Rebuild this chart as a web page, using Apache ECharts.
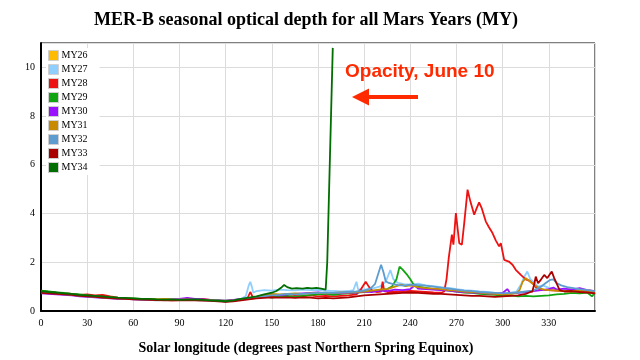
<!DOCTYPE html>
<html><head><meta charset="utf-8">
<script src="https://cdn.jsdelivr.net/npm/echarts@6/dist/echarts.min.js"></script>
<style>html,body{margin:0;padding:0;background:#fff}#c{width:640px;height:360px}</style>
</head><body><div id="c"></div>
<script>
const titleText = 'MER-B seasonal optical depth for all Mars Years (MY)';
const xAxisName = 'Solar longitude (degrees past Northern Spring Equinox)';
const annotationText = 'Opacity, June 10';
const yearNames = ['MY26','MY27','MY28','MY29','MY30','MY31','MY32','MY33','MY34'];
const yearColors = ['#ffbb00','#8fcfff','#ee1111','#11a611','#9a11ff','#c88a00','#5d9ccf','#aa0000','#006e00'];

const my26 = [[339,0.92],[341,0.86],[344,0.9],[347,0.84],[350,0.88],[353,0.82],[356,0.86],[360,0.8]];
const my27 = [[0,0.80],[5,0.76],[10,0.74],[15,0.70],[20,0.68],[25,0.64],[30,0.62],[35,0.60],[40,0.57],[45,0.55],[50,0.54],[55,0.52],[60,0.50],[65,0.48],[70,0.47],[75,0.46],[80,0.45],[85,0.47],[90,0.46],[95,0.47],[100,0.46],[105,0.45],[110,0.44],[115,0.42],[120,0.40],[125,0.44],[130,0.50],[133,0.6],[135,1.05],[136,1.2],[137,1.0],[138,0.75],[140,0.82],[145,0.86],[150,0.84],[155,0.88],[160,0.86],[165,0.85],[170,0.88],[175,0.86],[180,0.87],[185,0.85],[190,0.82],[195,0.8],[200,0.82],[203,0.86],[205,1.2],[206,0.9],[210,0.88],[215,0.92],[220,1.0],[224,1.2],[227,1.68],[229,1.3],[232,1.15],[236,1.1],[240,1.08],[245,1.12],[250,1.05],[255,1.02],[260,0.98],[265,0.95],[270,0.9],[275,0.86],[280,0.84],[285,0.8],[290,0.78],[295,0.74],[300,0.72],[305,0.74],[309,0.8],[312,1.1],[314,1.4],[316,1.62],[318,1.3],[320,1.2],[323,1.0],[326,1.05],[330,0.95],[335,0.9],[340,0.88],[345,0.86],[350,0.84],[355,0.8],[360,0.78]];
const my28 = [[0,0.82],[5,0.78],[10,0.74],[15,0.72],[20,0.7],[25,0.66],[30,0.68],[35,0.64],[40,0.66],[45,0.6],[50,0.55],[55,0.52],[60,0.5],[65,0.49],[70,0.5],[75,0.47],[80,0.46],[85,0.44],[90,0.45],[95,0.5],[100,0.47],[105,0.5],[110,0.46],[115,0.43],[120,0.4],[125,0.42],[130,0.48],[134,0.5],[136,0.78],[138,0.52],[140,0.55],[145,0.6],[150,0.6],[155,0.62],[160,0.58],[165,0.62],[170,0.6],[175,0.64],[180,0.6],[185,0.62],[190,0.6],[195,0.62],[200,0.64],[205,0.68],[208,0.9],[211,1.2],[213,1.0],[215,0.85],[218,0.78],[221,0.8],[222,1.2],[223,0.82],[225,0.78],[230,0.78],[235,0.8],[240,0.82],[245,0.8],[250,0.78],[255,0.76],[260,0.75],[262,0.8],[263.5,1.3],[265,2.2],[267,3.13],[268,2.72],[269.6,4.02],[271.8,2.78],[273.5,2.72],[275,3.6],[277.2,4.98],[279,4.5],[281.5,3.95],[283,4.2],[284.7,4.46],[286.5,4.2],[289,3.68],[291,3.45],[293.4,3.2],[295.5,2.9],[297.7,2.65],[298.8,2.78],[301,2.1],[304,2.03],[306.4,1.9],[308.5,1.69],[311.8,1.48],[315,1.3],[317.2,1.25],[320.4,1.07],[322,0.95],[325,0.88],[330,0.86],[335,0.84],[340,0.82],[345,0.8],[350,0.82],[355,0.78],[360,0.76]];
const my29 = [[0,0.84],[5,0.8],[10,0.76],[15,0.74],[20,0.7],[25,0.68],[30,0.64],[35,0.6],[40,0.58],[45,0.56],[50,0.54],[55,0.5],[60,0.52],[65,0.5],[70,0.49],[75,0.48],[80,0.47],[85,0.46],[90,0.48],[95,0.47],[100,0.5],[105,0.47],[110,0.45],[115,0.44],[120,0.42],[125,0.45],[130,0.48],[135,0.5],[140,0.55],[145,0.6],[150,0.55],[155,0.6],[160,0.62],[165,0.58],[170,0.62],[175,0.66],[180,0.68],[185,0.7],[190,0.66],[195,0.7],[200,0.72],[205,0.76],[210,0.78],[215,0.82],[220,0.86],[225,0.9],[228,1.0],[231,1.3],[233,1.82],[235,1.7],[236,1.75],[238,1.48],[240,1.3],[242,1.1],[245,1.0],[250,0.95],[255,0.9],[260,0.88],[265,0.84],[270,0.8],[275,0.76],[280,0.74],[285,0.7],[290,0.68],[295,0.66],[300,0.62],[305,0.64],[310,0.6],[315,0.62],[320,0.6],[325,0.62],[330,0.64],[335,0.68],[340,0.7],[345,0.74],[350,0.72],[355,0.76],[358,0.6],[360,0.74]];
const my30 = [[0,0.72],[5,0.7],[10,0.68],[15,0.66],[20,0.64],[25,0.6],[30,0.58],[35,0.56],[40,0.54],[45,0.52],[50,0.5],[55,0.5],[60,0.48],[65,0.47],[70,0.46],[75,0.45],[80,0.46],[85,0.48],[90,0.5],[95,0.54],[100,0.5],[105,0.48],[110,0.46],[115,0.44],[120,0.42],[125,0.46],[130,0.5],[135,0.52],[140,0.56],[145,0.62],[150,0.66],[155,0.64],[160,0.68],[165,0.7],[170,0.72],[175,0.74],[180,0.76],[185,0.72],[190,0.74],[195,0.72],[200,0.74],[205,0.76],[210,0.8],[215,0.78],[220,0.84],[225,0.82],[230,0.88],[235,0.86],[240,0.9],[243,1.05],[245,0.92],[250,0.9],[255,0.88],[260,0.86],[265,0.84],[270,0.8],[275,0.78],[280,0.76],[285,0.74],[290,0.72],[295,0.7],[300,0.74],[303,0.9],[305,0.72],[310,0.74],[315,0.78],[320,0.82],[325,0.86],[330,0.9],[333,0.96],[335,0.88],[340,0.92],[345,0.88],[350,0.94],[355,0.86],[360,0.82]];
const my31 = [[0,0.78],[5,0.76],[10,0.72],[15,0.7],[20,0.68],[25,0.64],[30,0.62],[35,0.58],[40,0.56],[45,0.54],[50,0.53],[55,0.52],[60,0.5],[65,0.49],[70,0.5],[75,0.48],[80,0.5],[85,0.48],[90,0.47],[95,0.48],[100,0.46],[105,0.46],[110,0.45],[115,0.43],[120,0.41],[125,0.44],[130,0.48],[135,0.52],[140,0.58],[145,0.66],[150,0.7],[155,0.68],[160,0.7],[165,0.72],[170,0.7],[175,0.72],[180,0.74],[185,0.72],[190,0.74],[195,0.76],[200,0.76],[205,0.78],[210,0.8],[215,0.84],[220,0.88],[225,0.9],[230,1.0],[234,1.08],[237,1.02],[240,1.05],[245,0.98],[250,0.94],[255,0.92],[260,0.9],[265,0.86],[270,0.84],[275,0.8],[280,0.78],[285,0.76],[290,0.72],[295,0.7],[300,0.68],[305,0.7],[309,0.74],[311,0.86],[313,1.2],[315,1.35],[317,1.25],[319,1.15],[321,1.05],[324,0.93],[327,0.88],[330,0.86],[335,0.84],[340,0.82],[345,0.8],[350,0.84],[355,0.8],[360,0.78]];
const my32 = [[0,0.76],[5,0.74],[10,0.72],[15,0.68],[20,0.66],[25,0.62],[30,0.6],[35,0.57],[40,0.55],[45,0.53],[50,0.52],[55,0.5],[60,0.49],[65,0.47],[70,0.46],[75,0.44],[80,0.46],[85,0.45],[90,0.47],[95,0.46],[100,0.45],[105,0.44],[110,0.43],[115,0.42],[120,0.39],[125,0.43],[130,0.47],[135,0.5],[140,0.56],[145,0.6],[150,0.64],[155,0.66],[160,0.7],[165,0.68],[170,0.7],[175,0.72],[180,0.74],[185,0.76],[190,0.74],[195,0.76],[200,0.78],[205,0.8],[210,0.84],[214,0.92],[217,1.1],[219,1.5],[221,1.9],[222.5,1.6],[224,1.22],[226,1.15],[229,1.1],[232,1.06],[236,1.04],[240,1.08],[245,1.06],[250,1.04],[255,1.0],[260,0.96],[265,0.92],[270,0.88],[275,0.84],[280,0.82],[285,0.78],[290,0.76],[295,0.74],[300,0.72],[305,0.74],[310,0.76],[315,0.8],[320,0.84],[325,1.0],[328,1.15],[331,1.28],[333,1.3],[335,1.15],[338,1.05],[342,0.98],[346,0.94],[350,0.9],[355,0.86],[360,0.82]];
const my33 = [[0,0.74],[5,0.72],[10,0.7],[15,0.68],[20,0.66],[25,0.62],[30,0.6],[35,0.58],[40,0.55],[45,0.53],[50,0.51],[55,0.5],[60,0.48],[65,0.47],[70,0.46],[75,0.45],[80,0.44],[85,0.45],[90,0.44],[95,0.45],[100,0.44],[105,0.43],[110,0.42],[115,0.4],[120,0.38],[125,0.4],[130,0.44],[135,0.48],[140,0.52],[145,0.54],[150,0.56],[155,0.55],[160,0.56],[165,0.54],[170,0.56],[175,0.55],[180,0.52],[185,0.54],[190,0.52],[195,0.54],[200,0.56],[205,0.6],[210,0.64],[215,0.66],[220,0.68],[225,0.7],[230,0.72],[235,0.74],[240,0.76],[245,0.74],[250,0.72],[255,0.7],[260,0.7],[265,0.68],[270,0.66],[275,0.64],[280,0.62],[285,0.62],[290,0.6],[295,0.58],[300,0.6],[305,0.62],[310,0.64],[315,0.7],[318,0.78],[319.3,0.8],[320.5,1.1],[321.5,1.41],[323,1.14],[325,1.3],[327,1.48],[329,1.35],[331.9,1.62],[333.5,1.35],[335.5,1.07],[337,0.86],[340,0.8],[345,0.82],[350,0.78],[355,0.76],[360,0.72]];
const my34 = [[0,0.82],[5,0.78],[10,0.76],[15,0.72],[20,0.7],[25,0.66],[30,0.64],[35,0.62],[40,0.6],[45,0.57],[50,0.55],[55,0.54],[60,0.52],[65,0.5],[70,0.5],[75,0.48],[80,0.47],[85,0.48],[90,0.46],[95,0.47],[100,0.48],[105,0.46],[110,0.44],[115,0.42],[120,0.4],[125,0.44],[130,0.5],[135,0.55],[140,0.6],[145,0.68],[150,0.75],[153,0.82],[156,0.95],[158,1.07],[160,0.98],[163,0.92],[166,0.94],[170,0.92],[173,0.95],[176,0.93],[179,0.95],[182,0.92],[185,0.88],[186,2.0],[189.6,10.8]];
const yearData = [my26,my27,my28,my29,my30,my31,my32,my33,my34];

const xTicks = [0,30,60,90,120,150,180,210,240,270,300,330];
const yTicks = [0,2,4,6,8,10];

const chart = echarts.init(document.getElementById('c'), null, {renderer:'canvas'});
const serif = '"Liberation Serif","DejaVu Serif",serif';
chart.setOption({
  animation:false,
  backgroundColor:'#fff',
  title:{text:titleText,left:89,top:6,textStyle:{fontFamily:serif,fontWeight:'bold',fontSize:18,color:'#000'}},
  grid:{left:41,right:45,top:43,bottom:49,show:true,borderColor:'#000',borderWidth:1,backgroundColor:'transparent'},
  legend:{orient:'vertical',left:46,top:48,itemWidth:10,itemHeight:10,itemGap:3,icon:'rect',
    backgroundColor:'#fff',padding:[2,12,2,2],
    itemStyle:{borderColor:'#d0d0d0',borderWidth:1},
    textStyle:{fontFamily:serif,fontSize:10,color:'#000',padding:[0,0,0,-2]},data:yearNames},
  xAxis:{type:'value',min:0,max:360,interval:30,
    name:xAxisName,nameLocation:'middle',nameGap:30,
    nameTextStyle:{fontFamily:serif,fontWeight:'bold',fontSize:14,color:'#000',padding:[0,24,0,0]},
    axisLine:{lineStyle:{color:'#000',width:2}},axisTick:{show:false},
    axisLabel:{fontFamily:serif,fontSize:10,color:'#000',margin:7,showMaxLabel:false,
      formatter:v=>xTicks.indexOf(v)>=0?String(v):''},
    splitLine:{lineStyle:{color:'#dcdcdc',width:1}}},
  yAxis:{type:'value',min:0,max:11,interval:2,
    axisLine:{show:true,lineStyle:{color:'#000',width:2}},axisTick:{show:false},
    axisLabel:{fontFamily:serif,fontSize:10,color:'#000',margin:6,showMaxLabel:false,
      formatter:v=>yTicks.indexOf(v)>=0?String(v):''},
    splitLine:{lineStyle:{color:'#dcdcdc',width:1}}},
  series:yearNames.map((n,i)=>({name:n,type:'line',data:yearData[i],showSymbol:false,
    color:yearColors[i],lineStyle:{width:1.8,color:yearColors[i]},
    itemStyle:{color:yearColors[i]}})),
  graphic:[
    {type:'text',left:345,top:62,z:100,style:{text:annotationText,fill:'#ff2a00',
      font:'bold 19px "Liberation Sans", Arial, sans-serif'}},
    {type:'polygon',z:100,shape:{points:[[352,97],[369,88.5],[369,105.5]]},style:{fill:'#ff2a00'}},
    {type:'rect',z:100,shape:{x:362,y:95,width:56,height:4},style:{fill:'#ff2a00'}}
  ]
});
</script></body></html>
